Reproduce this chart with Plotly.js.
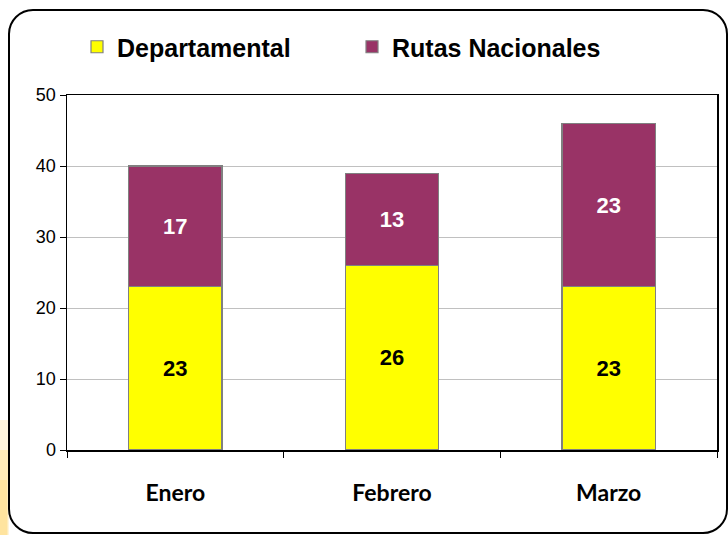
<!DOCTYPE html>
<html>
<head>
<meta charset="utf-8">
<script src="https://cdn.plot.ly/plotly-3.0.1.min.js"></script>
<style>html,body{margin:0;padding:0;background:#fff;}#chart{width:728px;height:535px;}</style>
</head>
<body>
<div id="chart"></div>
<script>
const categories = ["Enero", "Febrero", "Marzo"];
const departamental = [23, 26, 23];
const rutasNacionales = [17, 13, 23];
const seriesNames = ["Departamental", "Rutas Nacionales"];
const yTicks = [0, 10, 20, 30, 40, 50];

const W = 728, H = 535;
const M = {l: 67, r: 11, t: 95, b: 85};
const pw = W - M.l - M.r, ph = H - M.t - M.b;
function px(x) { return (x - M.l) / pw; }
function py(y) { return (H - M.b - y) / ph; }

function roundRect(x0, y0, x1, y1, r) {
  const k = 0.55 * r;
  const P = (x, y) => px(x) + ',' + py(y);
  return 'M' + P(x0 + r, y0) + ' L' + P(x1 - r, y0) +
    ' C' + P(x1 - r + k, y0) + ' ' + P(x1, y0 + r - k) + ' ' + P(x1, y0 + r) +
    ' L' + P(x1, y1 - r) +
    ' C' + P(x1, y1 - r + k) + ' ' + P(x1 - r + k, y1) + ' ' + P(x1 - r, y1) +
    ' L' + P(x0 + r, y1) +
    ' C' + P(x0 + r - k, y1) + ' ' + P(x0, y1 - r + k) + ' ' + P(x0, y1 - r) +
    ' L' + P(x0, y0 + r) +
    ' C' + P(x0, y0 + r - k) + ' ' + P(x0 + r - k, y0) + ' ' + P(x0 + r, y0) + ' Z';
}

const shapes = [];
// soft glow bottom-left
[[0, 420, 9, 535, 0.25], [0, 450, 8, 535, 0.3], [0, 480, 7, 535, 0.35]].forEach(g => {
  shapes.push({type: 'rect', xref: 'paper', yref: 'paper', layer: 'below',
    x0: px(g[0]), x1: px(g[2]), y0: py(g[3]), y1: py(g[1]),
    fillcolor: 'rgba(255,215,110,' + g[4] + ')', line: {width: 0}});
});
shapes.push({type: 'path', xref: 'paper', yref: 'paper', layer: 'below',
  path: roundRect(9, 10, 727, 533, 24), line: {color: '#000', width: 2}, fillcolor: 'rgba(0,0,0,0)'});

const traces = [
  {type: 'bar', name: seriesNames[0], x: categories, y: departamental,
   text: departamental.map(String), textposition: 'inside', insidetextanchor: 'middle',
   constraintext: 'none', textangle: 0,
   textfont: {family: 'Liberation Sans, Arial', size: 22, color: '#000', weight: 'bold'},
   marker: {color: '#FFFF00', line: {color: '#808080', width: 1.2}}, hoverinfo: 'none'},
  {type: 'bar', name: seriesNames[1], x: categories, y: rutasNacionales,
   text: rutasNacionales.map(String), textposition: 'inside', insidetextanchor: 'middle',
   constraintext: 'none', textangle: 0,
   textfont: {family: 'Liberation Sans, Arial', size: 22, color: '#fff', weight: 'bold'},
   marker: {color: '#993366', line: {color: '#808080', width: 1.2}}, hoverinfo: 'none'}
];

const layout = {
  width: W, height: H,
  margin: M,
  paper_bgcolor: '#fff', plot_bgcolor: '#fff',
  barmode: 'stack', bargap: 0.57,
  showlegend: true,
  legend: {orientation: 'h', x: px(77), y: py(47), xanchor: 'left', yanchor: 'middle',
    font: {family: 'Liberation Sans, Arial', size: 25, color: '#000', weight: 'bold'},
    entrywidth: 230, entrywidthmode: 'pixels', traceorder: 'normal', itemclick: false},
  xaxis: {type: 'category', showgrid: false, showline: true, mirror: true, linecolor: '#000', linewidth: 1.5,
    ticks: 'outside', tickson: 'boundaries', ticklen: 6, tickcolor: '#000', tickwidth: 1,
    ticklabelstandoff: 22,
    tickfont: {family: 'Lato, Carlito, sans-serif', size: 23, color: '#000', weight: 'bold'}},
  yaxis: {range: [0, 50], tickvals: yTicks, ticktext: yTicks.map(String),
    showgrid: true, gridcolor: '#C0C0C0', gridwidth: 1,
    showline: true, mirror: true, linecolor: '#000', linewidth: 1.5,
    ticks: 'outside', ticklen: 6, tickcolor: '#000', zeroline: false,
    tickfont: {family: 'Liberation Sans, Arial', size: 18, color: '#000'}},
  shapes: shapes
};

Plotly.newPlot('chart', traces, layout, {displayModeBar: false, staticPlot: true});
</script>
</body>
</html>
